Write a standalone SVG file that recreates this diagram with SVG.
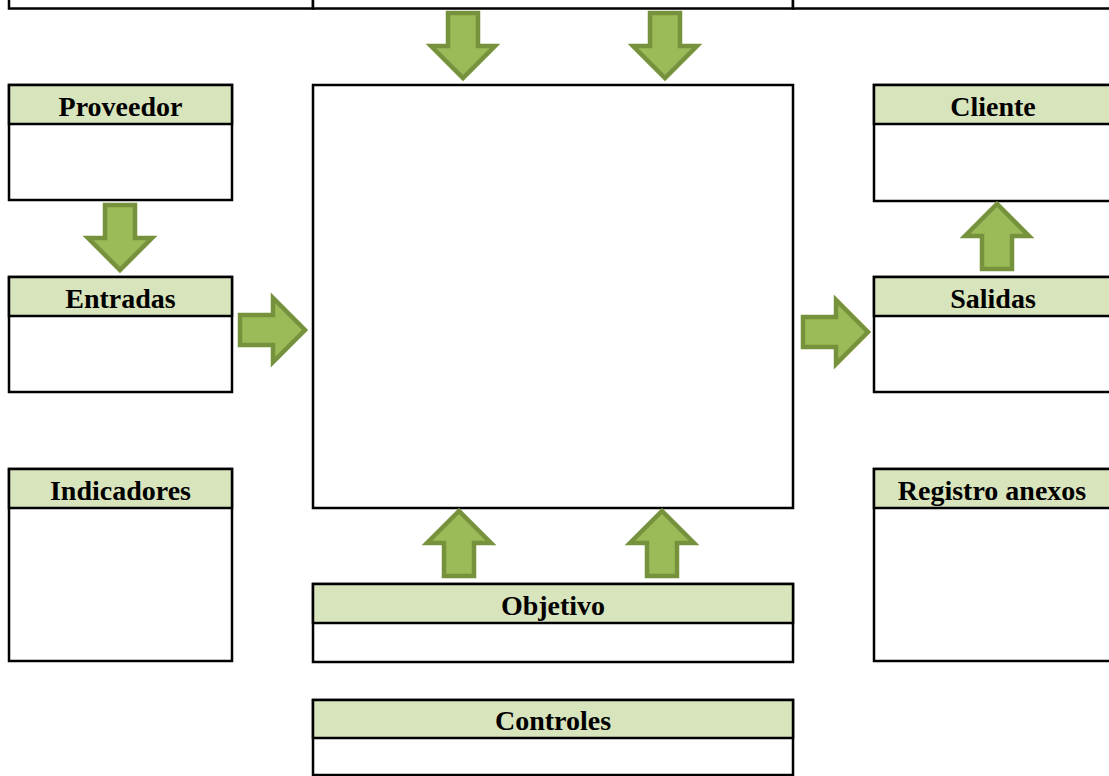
<svg xmlns="http://www.w3.org/2000/svg" width="1109" height="776" viewBox="0 0 1109 776">
<style>
.box{fill:#fff;stroke:#000;stroke-width:2.5}
.hdr{fill:#D8E4BC;stroke:#000;stroke-width:2.5}
.lbl{font-family:"Liberation Serif","Times New Roman",serif;font-weight:bold;font-size:28px;fill:#000;text-anchor:middle}
.arr{fill:#9BBB59;stroke:#76923C;stroke-width:4.5}
</style>
<defs>
<path id="arrow" class="arr" d="M-15,2 L15,2 L15,35 L32,35 L0,67 L-32,35 L-15,35 Z"/>
</defs>
<rect width="1109" height="776" fill="#fff"/>
<g id="top-left"><rect class="box" x="9" y="-40" width="304" height="48.5"/></g>
<g id="top-center"><rect class="box" x="313" y="-40" width="480" height="48.5"/></g>
<g id="top-right"><rect class="box" x="793" y="-40" width="330" height="48.5"/></g>

<g id="proceso"><rect class="box" x="313" y="85" width="480" height="423"/></g>

<g id="proveedor">
<rect class="box" x="9" y="85" width="223" height="115"/>
<rect class="hdr" x="9" y="85" width="223" height="39"/>
<text class="lbl" x="120.5" y="116">Proveedor</text>
</g>
<g id="entradas">
<rect class="box" x="9" y="277" width="223" height="115"/>
<rect class="hdr" x="9" y="277" width="223" height="39"/>
<text class="lbl" x="120.5" y="308">Entradas</text>
</g>
<g id="indicadores">
<rect class="box" x="9" y="469" width="223" height="192"/>
<rect class="hdr" x="9" y="469" width="223" height="39"/>
<text class="lbl" x="120.5" y="500">Indicadores</text>
</g>
<g id="cliente">
<rect class="box" x="874" y="85" width="238" height="116"/>
<rect class="hdr" x="874" y="85" width="238" height="39"/>
<text class="lbl" x="993" y="116">Cliente</text>
</g>
<g id="salidas">
<rect class="box" x="874" y="277" width="238" height="115"/>
<rect class="hdr" x="874" y="277" width="238" height="39"/>
<text class="lbl" x="993" y="308">Salidas</text>
</g>
<g id="registro">
<rect class="box" x="874" y="469" width="238" height="192"/>
<rect class="hdr" x="874" y="469" width="238" height="39"/>
<text class="lbl" x="992" y="500">Registro anexos</text>
</g>
<g id="objetivo">
<rect class="box" x="313" y="584" width="480" height="78"/>
<rect class="hdr" x="313" y="584" width="480" height="39"/>
<text class="lbl" x="553" y="615">Objetivo</text>
</g>
<g id="controles">
<rect class="box" x="313" y="700" width="480" height="75"/>
<rect class="hdr" x="313" y="700" width="480" height="38"/>
<text class="lbl" x="553" y="730">Controles</text>
</g>

<g id="connectors">
<use href="#arrow" transform="translate(463,11)"/>
<use href="#arrow" transform="translate(665,11)"/>
<use href="#arrow" transform="translate(120,203)"/>
<use href="#arrow" transform="translate(238,330) rotate(-90)"/>
<use href="#arrow" transform="translate(801,332) rotate(-90)"/>
<use href="#arrow" transform="translate(997,271) rotate(180)"/>
<use href="#arrow" transform="translate(459,578) rotate(180)"/>
<use href="#arrow" transform="translate(662,578) rotate(180)"/>
</g>
</svg>
